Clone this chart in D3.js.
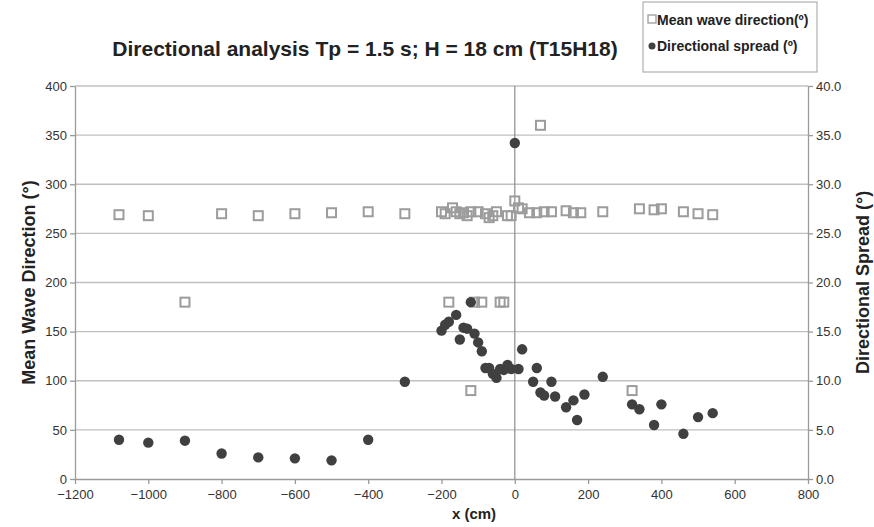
<!DOCTYPE html>
<html>
<head>
<meta charset="utf-8">
<script src="https://cdn.jsdelivr.net/npm/d3@7"></script>
<style>
  body { margin: 0; background: #fff; }
  text { font-family: "Liberation Sans", Arial, sans-serif; }
</style>
</head>
<body>
<div id="chart"></div>
<script>
// Mean wave direction (squares, left axis)
const dirX = [-1080, -1000, -900, -800, -700, -600, -500, -400, -300, -200, -190, -180, -170, -160, -150, -140, -130, -120, -120, -110, -100, -90, -80, -70, -60, -50, -40, -30, -20, -10, 0, 10, 20, 40, 60, 70, 80, 100, 140, 160, 180, 240, 320, 340, 380, 400, 460, 500, 540];
const dirVal = [269, 268, 180, 270, 268, 270, 271, 272, 270, 272, 270, 180, 276, 272, 270, 271, 268, 272, 90, 180, 272, 180, 270, 266, 268, 272, 180, 180, 268, 268, 283, 276, 275, 271, 271, 360, 272, 272, 273, 271, 271, 272, 90, 275, 274, 275, 272, 270, 269];

// Directional spread (circles, right axis)
const sprX = [-1080, -1000, -900, -800, -700, -600, -500, -400, -300, -200, -190, -180, -160, -150, -140, -130, -120, -110, -100, -90, -80, -70, -60, -50, -40, -30, -20, -10, 0, 10, 20, 50, 60, 70, 80, 100, 110, 140, 160, 170, 190, 240, 320, 340, 380, 400, 460, 500, 540];
const sprVal = [4.0, 3.7, 3.9, 2.6, 2.2, 2.1, 1.9, 4.0, 9.9, 15.1, 15.7, 16.0, 16.7, 14.2, 15.4, 15.3, 18.0, 14.8, 13.9, 13.0, 11.3, 11.3, 10.7, 10.3, 11.2, 11.1, 11.6, 11.2, 34.2, 11.2, 13.2, 9.9, 11.3, 8.8, 8.5, 9.9, 8.4, 7.3, 8.0, 6.0, 8.6, 10.4, 7.6, 7.1, 5.5, 7.6, 4.6, 6.3, 6.7];

const xTicks = [-1200, -1000, -800, -600, -400, -200, 0, 200, 400, 600, 800];
const leftTicks = [0, 50, 100, 150, 200, 250, 300, 350, 400];
const rightTicks = [0, 5, 10, 15, 20, 25, 30, 35, 40];

const W = 874, H = 527;
const margin = { top: 86, right: 66, bottom: 48, left: 75 };

const svg = d3.select("#chart").append("svg")
  .attr("width", W)
  .attr("height", H);

const x = d3.scaleLinear().domain([-1200, 800]).range([margin.left, W - margin.right]);
const yL = d3.scaleLinear().domain([0, 400]).range([H - margin.bottom, margin.top]);
const yR = d3.scaleLinear().domain([0, 40]).range([H - margin.bottom, margin.top]);

// horizontal gridlines
svg.append("g")
  .selectAll("line")
  .data(leftTicks.slice(1))
  .enter().append("line")
  .attr("x1", x(-1200)).attr("x2", x(800))
  .attr("y1", d => yL(d)).attr("y2", d => yL(d))
  .attr("stroke", "#c0c0c0")
  .attr("stroke-width", 1.3);

// vertical line at x = 0
svg.append("line")
  .attr("x1", x(0)).attr("x2", x(0))
  .attr("y1", yL(0)).attr("y2", yL(400))
  .attr("stroke", "#8c8c8c")
  .attr("stroke-width", 1.2);

// axes
const axisStyle = g => {
  g.select(".domain").attr("stroke", "#9a9a9a").attr("stroke-width", 1.3);
  g.selectAll(".tick line").attr("stroke", "#9a9a9a").attr("stroke-width", 1.3);
  g.selectAll(".tick text").attr("fill", "#333").attr("font-size", "13px")
    .attr("font-family", "'Liberation Sans', Arial, sans-serif");
};

svg.append("g")
  .attr("transform", `translate(0,${yL(0)})`)
  .call(d3.axisBottom(x).tickValues(xTicks).tickFormat(d3.format("d")).tickSize(5).tickSizeOuter(0))
  .call(axisStyle)
  .call(g => g.selectAll(".tick text").attr("dy", "0.9em"));

svg.append("g")
  .attr("transform", `translate(${x(-1200)},0)`)
  .call(d3.axisLeft(yL).tickValues(leftTicks).tickFormat(d3.format("d")).tickSize(5).tickSizeOuter(0))
  .call(axisStyle);

svg.append("g")
  .attr("transform", `translate(${x(800)},0)`)
  .call(d3.axisRight(yR).tickValues(rightTicks).tickFormat(d3.format(".1f")).tickSize(5).tickSizeOuter(0))
  .call(axisStyle);

// squares: mean wave direction
const sq = 9;
svg.append("g")
  .selectAll("rect")
  .data(dirX.map((d, i) => [d, dirVal[i]]))
  .enter().append("rect")
  .attr("x", d => x(d[0]) - sq / 2)
  .attr("y", d => yL(d[1]) - sq / 2)
  .attr("width", sq).attr("height", sq)
  .attr("fill", "none")
  .attr("stroke", "#9c9c9c")
  .attr("stroke-width", 2);

// circles: directional spread
svg.append("g")
  .selectAll("circle")
  .data(sprX.map((d, i) => [d, sprVal[i]]))
  .enter().append("circle")
  .attr("cx", d => x(d[0]))
  .attr("cy", d => yR(d[1]))
  .attr("r", 5.2)
  .attr("fill", "#404040");

// title
svg.append("text")
  .attr("x", 365).attr("y", 56)
  .attr("text-anchor", "middle")
  .attr("font-size", "21px")
  .attr("font-weight", "bold")
  .attr("fill", "#222")
  .text("Directional analysis Tp = 1.5 s; H = 18 cm (T15H18)");

// axis titles
svg.append("text")
  .attr("transform", `translate(35,${(yL(0) + yL(400)) / 2}) rotate(-90)`)
  .attr("text-anchor", "middle")
  .attr("font-size", "18px").attr("font-weight", "bold").attr("fill", "#222")
  .text("Mean Wave Direction (°)");

svg.append("text")
  .attr("transform", `translate(869,${(yL(0) + yL(400)) / 2}) rotate(-90)`)
  .attr("text-anchor", "middle")
  .attr("font-size", "18px").attr("font-weight", "bold").attr("fill", "#222")
  .text("Directional Spread (°)");

svg.append("text")
  .attr("x", 474).attr("y", 519)
  .attr("text-anchor", "middle")
  .attr("font-size", "15px").attr("font-weight", "bold").attr("fill", "#222")
  .text("x (cm)");

// legend
const lg = svg.append("g").attr("transform", "translate(643,2)");
lg.append("rect")
  .attr("width", 174).attr("height", 70)
  .attr("fill", "#fff").attr("stroke", "#a0a0a0").attr("stroke-width", 1);
lg.append("rect")
  .attr("x", 5).attr("y", 13).attr("width", 8).attr("height", 8)
  .attr("fill", "none").attr("stroke", "#9c9c9c").attr("stroke-width", 1.3);
lg.append("text")
  .attr("x", 14).attr("y", 23)
  .attr("font-size", "14px").attr("font-weight", "bold").attr("fill", "#222")
  .text("Mean wave direction(º)");
lg.append("circle")
  .attr("cx", 9).attr("cy", 44).attr("r", 3.5)
  .attr("fill", "#404040");
lg.append("text")
  .attr("x", 14).attr("y", 49)
  .attr("font-size", "14px").attr("font-weight", "bold").attr("fill", "#222")
  .text("Directional spread (º)");
</script>
</body>
</html>
